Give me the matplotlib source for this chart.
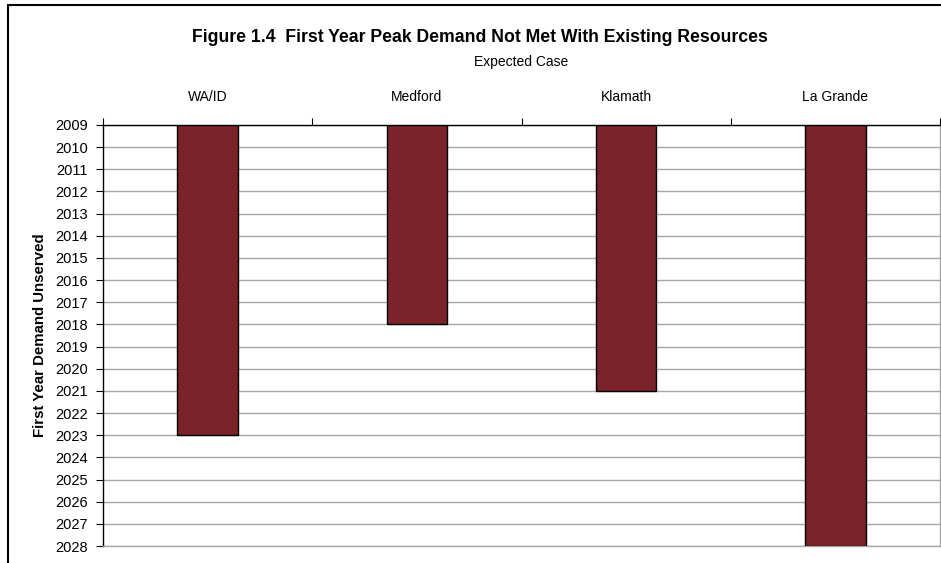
import matplotlib
matplotlib.use("Agg")
import matplotlib.pyplot as plt
from matplotlib.patches import Rectangle

# First year in which peak demand is not met, per area
areas = ["WA/ID", "Medford", "Klamath", "La Grande"]
first_year_unserved = [2023, 2018, 2021, 2028]
start_year = 2009
years = list(range(2009, 2029))

plt.rcParams["font.family"] = ["Liberation Sans", "DejaVu Sans"]

fig = plt.figure(figsize=(9.41, 5.63), dpi=100)
ax = fig.add_axes([103 / 941, 1 - 546 / 563, 837 / 941, 421 / 563])

# outer chart border (cropped at right and bottom like the original)
fig.patches.append(Rectangle((8 / 941, -0.05), 1.2, 1 - 5 / 563 + 0.05,
                             transform=fig.transFigure, fill=False,
                             edgecolor="black", linewidth=1.5, zorder=0))

xpos = range(len(areas))
heights = [y - start_year for y in first_year_unserved]
ax.bar(xpos, heights, bottom=start_year, width=0.29, color="#7A2329",
       edgecolor="black", linewidth=1.0, zorder=3)

ax.set_xlim(-0.5, len(areas) - 0.5)
ax.set_ylim(2028, 2009)
ax.set_yticks(years)
ax.set_yticklabels([str(y) for y in years], fontsize=10.5)
ax.yaxis.grid(True, color="#a6a6a6", linewidth=1.0, zorder=0)

# category labels on top, tick marks between categories
ax.xaxis.tick_top()
ax.set_xticks(list(xpos))
ax.set_xticklabels(areas, fontsize=10)
ax.set_xticks([i - 0.5 for i in range(len(areas) + 1)], minor=True)
ax.tick_params(axis="x", which="major", length=0, pad=15)
ax.tick_params(axis="x", which="minor", length=5, width=0.8, direction="out")
ax.tick_params(axis="y", length=5, width=0.8, direction="out", pad=6)

for side in ["top", "left"]:
    ax.spines[side].set_color("black")
    ax.spines[side].set_linewidth(1.0)
for side in ["bottom", "right"]:
    ax.spines[side].set_color("#a6a6a6")
    ax.spines[side].set_linewidth(1.0)

ax.set_ylabel("First Year Demand Unserved", fontsize=10.8, fontweight="bold",
              labelpad=6)

fig.text(480 / 941, 1 - 37 / 563,
         "Figure 1.4  First Year Peak Demand Not Met With Existing Resources",
         ha="center", va="center", fontsize=12.7, fontweight="bold")
fig.text(521 / 941, 1 - 62 / 563, "Expected Case", ha="center", va="center",
         fontsize=10)

fig.savefig("out.png", dpi=100)
